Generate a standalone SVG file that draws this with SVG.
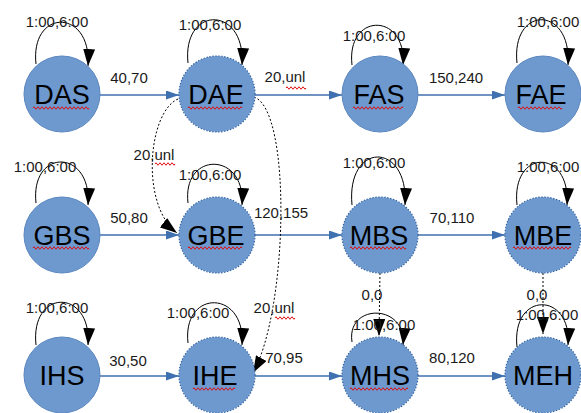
<svg xmlns="http://www.w3.org/2000/svg" width="581" height="413" viewBox="0 0 581 413">
<style>
.node{fill:#6d99cf;stroke:#5a86c0;stroke-width:1}
.dot{stroke:#3465a4;stroke-dasharray:1.5 1.5;stroke-width:1.2}
.nt{font-family:"Liberation Sans",Arial,sans-serif;font-size:27px;fill:#000;text-anchor:middle}
.el{font-family:"Liberation Sans",Arial,sans-serif;font-size:15px;fill:#1a1a1a;text-anchor:middle}
.wave{fill:none;stroke:#e01010;stroke-width:1}
.h{fill:none;stroke:#3f70b0;stroke-width:1.6;marker-end:url(#ab)}
.loop{fill:none;stroke:#000;stroke-width:1;marker-end:url(#ak)}
.dash{fill:none;stroke:#000;stroke-width:1;stroke-dasharray:2 2;marker-end:url(#ak)}
</style>
<defs>
<marker id="ab" markerUnits="userSpaceOnUse" markerWidth="13" markerHeight="9" refX="13" refY="4.5" orient="auto"><path d="M0,0 L13,4.5 L0,9 z" fill="#3f70b0"/></marker>
<marker id="ak" markerUnits="userSpaceOnUse" markerWidth="17" markerHeight="12" refX="17" refY="6" orient="auto"><path d="M0,0 L17,6 L0,12 z" fill="#000"/></marker>
</defs>

<g id="connectors">
<path class="h" d="M100,95 L179,95"/>
<path class="h" d="M255,95 L342,95"/>
<path class="h" d="M418,95 L505,95"/>
<path class="h" d="M100,235 L179,235"/>
<path class="h" d="M255,235 L342,235"/>
<path class="h" d="M418,235 L505,235"/>
<path class="h" d="M100,376 L179,376"/>
<path class="h" d="M255,376 L342,376"/>
<path class="h" d="M418,376 L505,376"/>
<path class="dash" d="M178,99 C148,112 140,205 177,233"/>
<path class="dash" d="M254,97 C292,110 288,310 253,373"/>
<path class="dash" d="M380,273 L379,336"/>
<path class="dash" d="M543,273 L543,334"/>
<path class="loop" d="M36,64 C30,8 92,8 88,66"/>
<path class="loop" d="M188,63 C182,5 246,5 242,65"/>
<path class="loop" d="M352,65 C346,12 407,12 403,65"/>
<path class="loop" d="M517,63 C511,5 572,5 568,65"/>
<path class="loop" d="M36,203 C30,148 92,148 88,205"/>
<path class="loop" d="M188,203 C182,151 246,151 242,205"/>
<path class="loop" d="M352,205 C346,141 409,141 405,205"/>
<path class="loop" d="M517,205 C511,148 571,148 567,205"/>
<path class="loop" d="M36,345 C30,288 92,288 88,345"/>
<path class="loop" d="M188,343 C182,289 246,289 242,345"/>
<path class="loop" d="M352,342 C346,303 407,303 403,345"/>
<path class="loop" d="M517,347 C511,291 572,291 568,345"/>
<text class="el" x="129" y="83">40,70</text>
<text class="el" x="285" y="82">20,unl</text>
<text class="el" x="456" y="83">150,240</text>
<text class="el" x="129" y="223">50,80</text>
<text class="el" x="281" y="218">120,155</text>
<text class="el" x="452" y="223">70,110</text>
<text class="el" x="128" y="366">30,50</text>
<text class="el" x="284" y="363">70,95</text>
<text class="el" x="452" y="363">80,120</text>
<text class="el" x="154" y="160">20,unl</text>
<text class="el" x="274" y="313">20,unl</text>
<text class="el" x="372" y="300">0,0</text>
<text class="el" x="537" y="300">0,0</text>
<path class="wave" d="M286,88 q1,-2.5 2,0 t2,0 t2,0 t2,0 t2,0 t2,0 t2,0 t2,0 t2,0 t2,0"/>
<path class="wave" d="M155,164 q1,-2.5 2,0 t2,0 t2,0 t2,0 t2,0 t2,0 t2,0 t2,0 t2,0 t2,0"/>
<path class="wave" d="M275,318 q1,-2.5 2,0 t2,0 t2,0 t2,0 t2,0 t2,0 t2,0 t2,0 t2,0 t2,0"/>
</g>

<g id="DAS"><circle class="node" cx="62" cy="94" r="38"/><text class="nt" x="62" y="104">DAS</text><text class="el" x="57" y="27">1:00,6:00</text><path class="wave" d="M33,108 q1,-2.5 2,0 t2,0 t2,0 t2,0 t2,0 t2,0 t2,0 t2,0 t2,0 t2,0 t2,0 t2,0 t2,0 t2,0 t2,0 t2,0 t2,0 t2,0 t2,0 t2,0 t2,0 t2,0 t2,0 t2,0 t2,0 t2,0 t2,0 t2,0"/></g>
<g id="DAE"><circle class="node dot" cx="217" cy="94" r="38"/><text class="nt" x="216" y="104">DAE</text><text class="el" x="210" y="30">1:00,6:00</text><path class="wave" d="M188,108 q1,-2.5 2,0 t2,0 t2,0 t2,0 t2,0 t2,0 t2,0 t2,0 t2,0 t2,0 t2,0 t2,0 t2,0 t2,0 t2,0 t2,0 t2,0 t2,0 t2,0 t2,0 t2,0 t2,0 t2,0 t2,0 t2,0 t2,0 t2,0"/></g>
<g id="FAS"><circle class="node" cx="380" cy="94" r="38"/><text class="nt" x="379" y="104">FAS</text><text class="el" x="374" y="41">1:00,6:00</text><path class="wave" d="M353,108 q1,-2.5 2,0 t2,0 t2,0 t2,0 t2,0 t2,0 t2,0 t2,0 t2,0 t2,0 t2,0 t2,0 t2,0 t2,0 t2,0 t2,0 t2,0 t2,0 t2,0 t2,0 t2,0 t2,0 t2,0 t2,0 t2,0"/></g>
<g id="FAE"><circle class="node" cx="543" cy="94" r="38"/><text class="nt" x="541" y="104">FAE</text><text class="el" x="548" y="27">1:00,6:00</text><path class="wave" d="M518,108 q1,-2.5 2,0 t2,0 t2,0 t2,0 t2,0 t2,0 t2,0 t2,0 t2,0 t2,0 t2,0 t2,0 t2,0 t2,0 t2,0 t2,0 t2,0 t2,0 t2,0 t2,0 t2,0 t2,0"/></g>

<g id="GBS"><circle class="node" cx="62" cy="235" r="38"/><text class="nt" x="62" y="245">GBS</text><text class="el" x="45" y="172">1:00,6:00</text><path class="wave" d="M33,248 q1,-2.5 2,0 t2,0 t2,0 t2,0 t2,0 t2,0 t2,0 t2,0 t2,0 t2,0 t2,0 t2,0 t2,0 t2,0 t2,0 t2,0 t2,0 t2,0 t2,0 t2,0 t2,0 t2,0 t2,0 t2,0 t2,0 t2,0 t2,0 t2,0"/></g>
<g id="GBE"><circle class="node dot" cx="217" cy="235" r="38"/><text class="nt" x="216" y="245">GBE</text><text class="el" x="210" y="180">1:00,6:00</text><path class="wave" d="M188,248 q1,-2.5 2,0 t2,0 t2,0 t2,0 t2,0 t2,0 t2,0 t2,0 t2,0 t2,0 t2,0 t2,0 t2,0 t2,0 t2,0 t2,0 t2,0 t2,0 t2,0 t2,0 t2,0 t2,0 t2,0 t2,0 t2,0 t2,0 t2,0"/></g>
<g id="MBS"><circle class="node dot" cx="380" cy="235" r="38"/><text class="nt" x="379" y="245">MBS</text><text class="el" x="374" y="168">1:00,6:00</text><path class="wave" d="M350,248 q1,-2.5 2,0 t2,0 t2,0 t2,0 t2,0 t2,0 t2,0 t2,0 t2,0 t2,0 t2,0 t2,0 t2,0 t2,0 t2,0 t2,0 t2,0 t2,0 t2,0 t2,0 t2,0 t2,0 t2,0 t2,0 t2,0 t2,0 t2,0 t2,0"/></g>
<g id="MBE"><circle class="node dot" cx="543" cy="235" r="38"/><text class="nt" x="543" y="245">MBE</text><text class="el" x="548" y="172">1:00,6:00</text><path class="wave" d="M513,248 q1,-2.5 2,0 t2,0 t2,0 t2,0 t2,0 t2,0 t2,0 t2,0 t2,0 t2,0 t2,0 t2,0 t2,0 t2,0 t2,0 t2,0 t2,0 t2,0 t2,0 t2,0 t2,0 t2,0 t2,0 t2,0 t2,0 t2,0 t2,0 t2,0 t2,0"/></g>

<g id="IHS"><circle class="node" cx="62" cy="375" r="38"/><text class="nt" x="62" y="385">IHS</text><text class="el" x="57" y="313">1:00,6:00</text></g>
<g id="IHE"><circle class="node dot" cx="217" cy="375" r="38"/><text class="nt" x="215" y="385">IHE</text><text class="el" x="198" y="318">1:00,6:00</text><path class="wave" d="M193,389 q1,-2.5 2,0 t2,0 t2,0 t2,0 t2,0 t2,0 t2,0 t2,0 t2,0 t2,0 t2,0 t2,0 t2,0 t2,0 t2,0 t2,0 t2,0 t2,0 t2,0 t2,0 t2,0"/></g>
<g id="MHS"><circle class="node dot" cx="380" cy="375" r="38"/><text class="nt" x="380" y="385">MHS</text><text class="el" x="384" y="330">1:00,6:00</text><path class="wave" d="M350,389 q1,-2.5 2,0 t2,0 t2,0 t2,0 t2,0 t2,0 t2,0 t2,0 t2,0 t2,0 t2,0 t2,0 t2,0 t2,0 t2,0 t2,0 t2,0 t2,0 t2,0 t2,0 t2,0 t2,0 t2,0 t2,0 t2,0 t2,0 t2,0 t2,0 t2,0"/></g>
<g id="MEH"><circle class="node dot" cx="543" cy="375" r="38"/><text class="nt" x="543" y="385">MEH</text><text class="el" x="547" y="320">1:00,6:00</text></g>
</svg>
